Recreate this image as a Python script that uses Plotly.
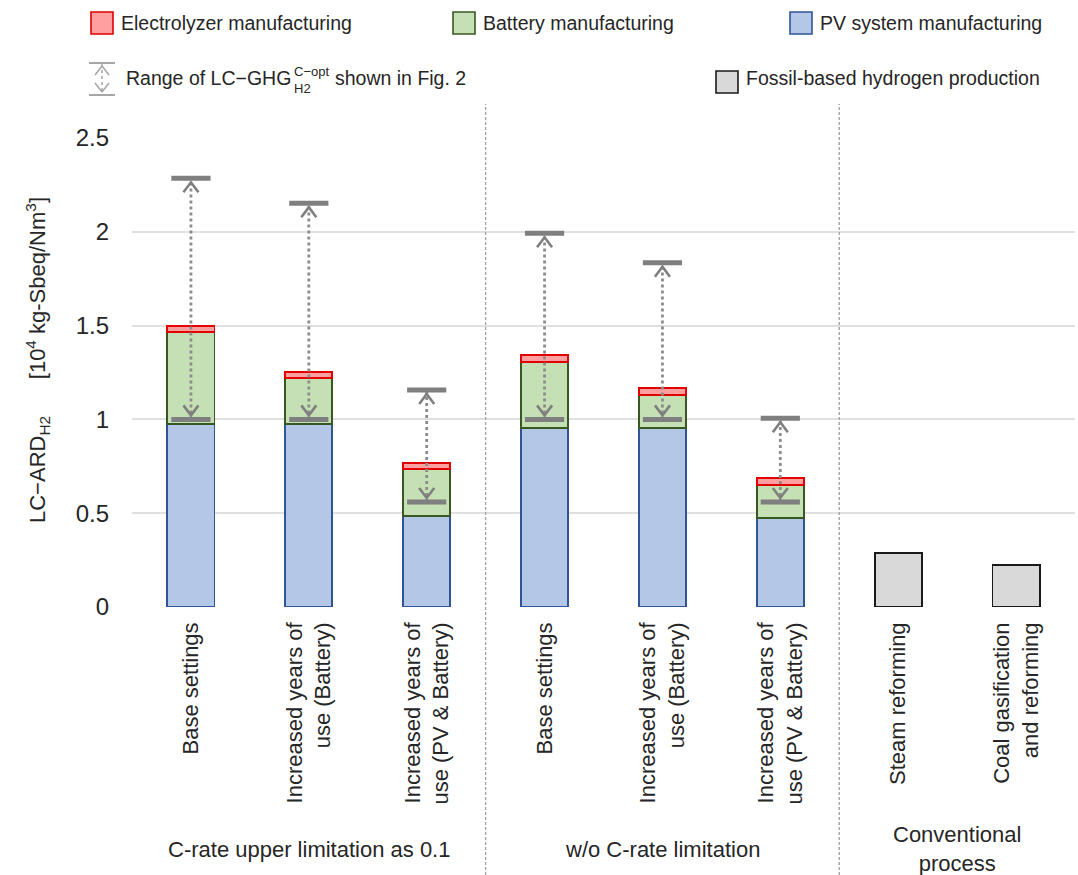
import plotly.graph_objects as go

# ---- data -------------------------------------------------------------
categories = [
    "Base settings",
    "Increased years of<br>use (Battery)",
    "Increased years of<br>use (PV & Battery)",
    "Base settings",
    "Increased years of<br>use (Battery)",
    "Increased years of<br>use (PV & Battery)",
    "Steam reforming",
    "Coal gasification<br>and reforming",
]
pv_manufacturing = [0.975, 0.975, 0.485, 0.956, 0.956, 0.476]
battery_manufacturing = [0.491, 0.244, 0.249, 0.348, 0.174, 0.174]
electrolyzer_manufacturing = [0.034, 0.035, 0.032, 0.039, 0.039, 0.039]
fossil_production = [0.286, 0.224]
ghg_range_low = [1.0, 1.0, 0.56, 1.0, 1.0, 0.56]
ghg_range_high = [2.285, 2.152, 1.157, 1.992, 1.835, 1.006]
group_labels = ["C-rate upper limitation as 0.1", "w/o C-rate limitation", "Conventional<br>process"]
group_centers = [1, 4, 6.5]
y_tickvals = [0, 0.5, 1, 1.5, 2, 2.5]
y_ticktext = ["0", "0.5", "1", "1.5", "2", "2.5"]

# ---- layout geometry ---------------------------------------------------
FIG_W, FIG_H = 1078, 875
M_L, M_R, M_T, M_B = 132, 3, 138, 268
PLOT_W = FIG_W - M_L - M_R
PLOT_H = FIG_H - M_T - M_B
X_RANGE = [-0.5, len(categories) - 0.5]
Y_RANGE = [0, 2.5]
PX_PER_X = PLOT_W / (X_RANGE[1] - X_RANGE[0])
PX_PER_Y = PLOT_H / (Y_RANGE[1] - Y_RANGE[0])

FONT = "Liberation Sans, Arial, sans-serif"
TXT = "#262626"
GRAY = "#7f7f7f"

PV_FILL, PV_LINE = "#b4c7e7", "#2f5597"
BAT_FILL, BAT_LINE = "#c5e0b4", "#385723"
EL_FILL, EL_LINE = "#ff9f9f", "#e00000"
FOS_FILL, FOS_LINE = "#d9d9d9", "#1a1a1a"


def px(x):
    """pixel x -> paper x"""
    return (x - M_L) / PLOT_W


def py(y):
    """pixel y -> paper y"""
    return (FIG_H - M_B - y) / PLOT_H


fig = go.Figure()

renew_x = list(range(len(pv_manufacturing)))
fossil_x = list(range(len(pv_manufacturing), len(categories)))

bar_kw = dict(width=0.4, showlegend=False, hoverinfo="skip")
fig.add_trace(go.Bar(x=renew_x, y=pv_manufacturing, name="PV system manufacturing",
                     marker=dict(color=PV_FILL, line=dict(color=PV_LINE, width=1.8)), **bar_kw))
fig.add_trace(go.Bar(x=renew_x, y=battery_manufacturing, name="Battery manufacturing",
                     marker=dict(color=BAT_FILL, line=dict(color=BAT_LINE, width=1.8)), **bar_kw))
fig.add_trace(go.Bar(x=renew_x, y=electrolyzer_manufacturing, name="Electrolyzer manufacturing",
                     marker=dict(color=EL_FILL, line=dict(color=EL_LINE, width=1.8)), **bar_kw))
fig.add_trace(go.Bar(x=fossil_x, y=fossil_production, name="Fossil-based hydrogen production",
                     marker=dict(color=FOS_FILL, line=dict(color=FOS_LINE, width=1.8)), **bar_kw))

# ---- LC-GHG range markers ------------------------------------------------
dot_x, dot_y = [], []
chev_x, chev_y = [], []
cap_x, cap_y = [], []
half_w = 7.5 / PX_PER_X
gap = 4 / PX_PER_Y
arm = 14 / PX_PER_Y
for i, (lo, hi) in enumerate(zip(ghg_range_low, ghg_range_high)):
    dot_x += [i, i, None]
    dot_y += [lo, hi, None]
    chev_x += [i - half_w, i, i + half_w, None, i - half_w, i, i + half_w, None]
    chev_y += [hi - arm, hi - gap, hi - arm, None, lo + arm, lo + gap, lo + arm, None]
    cap_x += [i, i]
    cap_y += [lo, hi]

fig.add_trace(go.Scatter(x=dot_x, y=dot_y, mode="lines", showlegend=False, hoverinfo="skip",
                         line=dict(color="#8c8c8c", width=2.8, dash="dot")))
fig.add_trace(go.Scatter(x=chev_x, y=chev_y, mode="lines", showlegend=False, hoverinfo="skip",
                         line=dict(color=GRAY, width=2.6)))
fig.add_trace(go.Scatter(x=cap_x, y=cap_y, mode="markers", showlegend=False, hoverinfo="skip",
                         marker=dict(symbol="line-ew", size=28, color=GRAY,
                                     line=dict(color=GRAY, width=5))))

shapes = []
annotations = []

# group separators
for xs in (2.5, 5.5):
    shapes.append(dict(type="line", xref="x", yref="paper", x0=xs, x1=xs,
                       y0=py(875), y1=py(104),
                       line=dict(color="#a6a6a6", width=1.4, dash="3px,2px")))

# group labels
for label, xc in zip(group_labels, group_centers):
    annotations.append(dict(text=label, xref="x", yref="paper", x=xc, y=py(849),
                            xanchor="center", yanchor="middle", showarrow=False,
                            font=dict(size=22, color=TXT, family=FONT)))

# y-axis title
annotations.append(dict(
    text="LC\u2212ARD<sub>H2</sub>" + "\u00a0" * 6 + "[10<sup>4</sup> kg-Sbeq/Nm<sup>3</sup>]",
    xref="paper", yref="paper", x=px(37), y=py(360), textangle=-90,
    xanchor="center", yanchor="middle", showarrow=False,
    font=dict(size=22, color=TXT, family=FONT)))

# ---- legend ----------------------------------------------------------------
LEG_FONT = dict(size=19.5, color=TXT, family=FONT)


def swatch(x0, yc, fill, edge):
    shapes.append(dict(type="rect", xref="paper", yref="paper",
                       x0=px(x0), x1=px(x0 + 22), y0=py(yc + 11), y1=py(yc - 11),
                       fillcolor=fill, line=dict(color=edge, width=1.6)))


def leg_text(x0, yc, text, font=LEG_FONT):
    annotations.append(dict(text=text, xref="paper", yref="paper", x=px(x0), y=py(yc),
                            xanchor="left", yanchor="middle", showarrow=False, font=font))


row1, row2 = 23, 78
swatch(91, row1, EL_FILL, EL_LINE)
leg_text(119, row1, "Electrolyzer manufacturing")
swatch(453, row1, BAT_FILL, BAT_LINE)
leg_text(481, row1, "Battery manufacturing")
swatch(790, row1, PV_FILL, PV_LINE)
leg_text(818, row1, "PV system manufacturing")
swatch(716, row2 + 4, FOS_FILL, FOS_LINE)
leg_text(744, row2, "Fossil-based hydrogen production")


def seg(x0, y0, x1, y1, color="#a6a6a6", width=2, dash=None):
    line = dict(color=color, width=width)
    if dash:
        line["dash"] = dash
    shapes.append(dict(type="line", xref="paper", yref="paper",
                       x0=px(x0), y0=py(y0), x1=px(x1), y1=py(y1), line=line))


# range icon
seg(89, 63, 115, 63)
seg(89, 95, 115, 95)
seg(102, 64, 102, 94, width=1.5, dash="dot")
seg(95, 75, 102, 66, width=1.5)
seg(109, 75, 102, 66, width=1.5)
seg(95, 83, 102, 92, width=1.5)
seg(109, 83, 102, 92, width=1.5)

leg_text(124, row2, "Range of LC\u2212GHG")
leg_text(292, 71, "C\u2212opt", dict(size=13, color=TXT, family=FONT))
leg_text(292, 88, "H2", dict(size=13, color=TXT, family=FONT))
leg_text(333, row2, "shown in Fig. 2")

fig.update_layout(
    width=FIG_W, height=FIG_H,
    margin=dict(l=M_L, r=M_R, t=M_T, b=M_B, autoexpand=False),
    paper_bgcolor="white", plot_bgcolor="white",
    barmode="stack",
    showlegend=False,
    font=dict(family=FONT, color=TXT),
    shapes=shapes,
    annotations=annotations,
    xaxis=dict(range=X_RANGE, tickmode="array", tickvals=list(range(len(categories))),
               ticktext=categories, tickangle=-90, showgrid=False, zeroline=False,
               showline=False, ticks="", ticklabelstandoff=10,
               tickfont=dict(size=22, color=TXT, family=FONT)),
    yaxis=dict(range=Y_RANGE, tickmode="array", tickvals=y_tickvals, ticktext=y_ticktext,
               showgrid=True, gridcolor="#e0e0e0", gridwidth=1.6, zeroline=False,
               showline=False, ticks="", ticklabelstandoff=22,
               tickfont=dict(size=24, color=TXT, family=FONT)),
)

fig.write_html("out.html")
